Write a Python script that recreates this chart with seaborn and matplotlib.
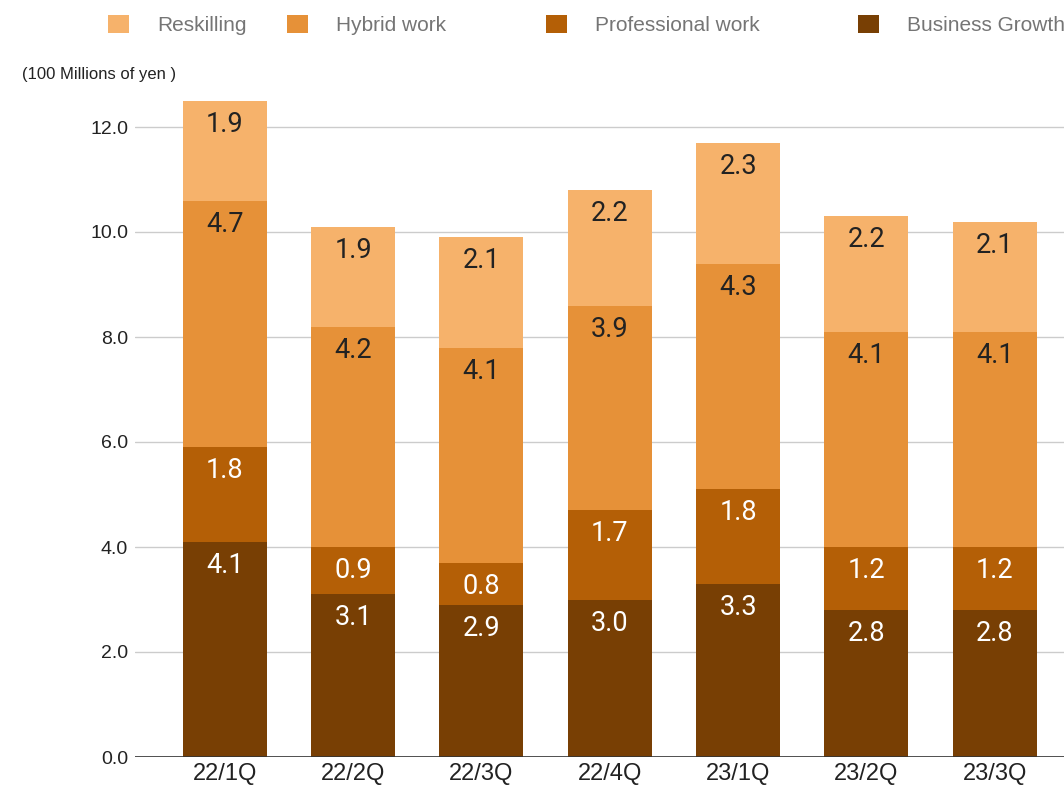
import matplotlib
matplotlib.use("Agg")
import matplotlib.pyplot as plt
from matplotlib.patches import Patch
import seaborn as sns
import numpy as np

categories = ["22/1Q", "22/2Q", "22/3Q", "22/4Q", "23/1Q", "23/2Q", "23/3Q"]
business_growth = [4.1, 3.1, 2.9, 3.0, 3.3, 2.8, 2.8]
professional_work = [1.8, 0.9, 0.8, 1.7, 1.8, 1.2, 1.2]
hybrid_work = [4.7, 4.2, 4.1, 3.9, 4.3, 4.1, 4.1]
reskilling = [1.9, 1.9, 2.1, 2.2, 2.3, 2.2, 2.1]
y_ticks = [0, 2, 4, 6, 8, 10, 12]

series_names = ["Business Growth", "Professional work", "Hybrid work", "Reskilling"]
series_vals = [business_growth, professional_work, hybrid_work, reskilling]
colors = {"Reskilling": "#f6b26b", "Hybrid work": "#e69138",
          "Professional work": "#b45f06", "Business Growth": "#783f04"}
label_colors = {"Reskilling": "#222222", "Hybrid work": "#222222",
                "Professional work": "white", "Business Growth": "white"}

sns.set_theme(style="white")
plt.rcParams["font.family"] = ["Liberation Sans", "DejaVu Sans"]

fig = plt.figure(figsize=(10.64, 7.9), dpi=100)
ax = fig.add_axes([135 / 1064, 33 / 790, 1 - 135 / 1064, (757 - 100.75) / 790])

cum = np.cumsum(np.array(series_vals), axis=0)
for i in range(len(series_names) - 1, -1, -1):
    name = series_names[i]
    sns.barplot(x=categories, y=cum[i], color=colors[name], saturation=1,
                width=0.655, linewidth=0, ax=ax, zorder=3)

for i, name in enumerate(series_names):
    for j, v in enumerate(series_vals[i]):
        ax.annotate(f"{v:.1f}", xy=(j, cum[i][j]), xytext=(0, -17),
                    textcoords="offset points", ha="center", va="center",
                    fontsize=19.5, color=label_colors[name], family="Roboto",
                    zorder=5)

ax.set_xlim(-0.70, 6.54)
ax.set_ylim(0, 12.5)
ax.set_yticks(y_ticks)
ax.set_yticklabels([f"{t:.1f}" for t in y_ticks])
ax.yaxis.grid(True, color="#cccccc", linewidth=1, zorder=0)
ax.set_axisbelow(True)
for s in ax.spines.values():
    s.set_visible(False)
ax.axhline(0, color="#333333", linewidth=1.2, zorder=4)
ax.tick_params(axis="y", length=0, pad=5, labelsize=14, labelcolor="#222222")
ax.tick_params(axis="x", length=0, pad=4, labelsize=17, labelcolor="#222222")
ax.set_xlabel("")
ax.set_ylabel("")

fig.text(22 / 1064, 1 - 75 / 790, "(100 Millions of yen )", fontsize=12,
         color="#222222", va="center", ha="left")

legend_x = [108, 287, 546, 858]
legend_order = ["Reskilling", "Hybrid work", "Professional work", "Business Growth"]
for x, name in zip(legend_x, legend_order):
    lg = fig.legend(handles=[Patch(facecolor=colors[name], edgecolor="none", label=name)],
                    loc="center left", bbox_to_anchor=(x / 1064, 1 - 25 / 790),
                    frameon=False, fontsize=15, handlelength=1.0, handleheight=1.0,
                    handletextpad=1.35, borderpad=0, borderaxespad=0)
    for t in lg.get_texts():
        t.set_color("#757575")

fig.savefig("out.png", dpi=100)
